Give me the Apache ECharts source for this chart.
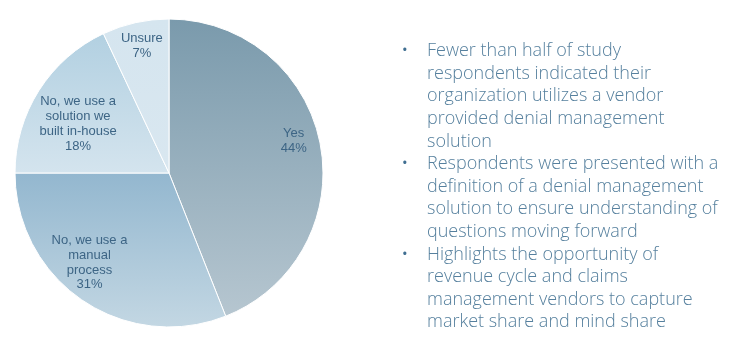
<!DOCTYPE html>
<html>
<head>
<meta charset="utf-8">
<script src="https://cdn.jsdelivr.net/npm/echarts@6/dist/echarts.min.js"></script>
<style>
  html, body { margin: 0; padding: 0; background: #ffffff; }
  #chart { width: 743px; height: 347px; }
</style>
</head>
<body>
<div id="chart"></div>
<script>
// Survey answers: does the organization use a vendor-provided denial management solution?
const categories = ['Yes', 'No, we use a\nmanual\nprocess', 'No, we use a\nsolution we\nbuilt in-house', 'Unsure'];
const values = [44, 31, 18, 7];
const sliceTop = ['#7a9aac', '#93b7cf', '#b2d0e1', '#d5e5ef'];
const sliceBottom = ['#b6c6d0', '#c3d7e3', '#d4e4ee', '#d9e7f0'];
const labelShift = [[-2, -8], [-7, -17], [18, 20], [1, -1]];

const bullets = [
  ['Fewer than half of study', 'respondents indicated their', 'organization utilizes a vendor', 'provided denial management', 'solution'],
  ['Respondents were presented with a', 'definition of a denial management', 'solution to ensure understanding of', 'questions moving forward'],
  ['Highlights the opportunity of', 'revenue cycle and claims', 'management vendors to capture', 'market share and mind share']
];

const chart = echarts.init(document.getElementById('chart'), null, { renderer: 'canvas' });

const cx = 169, cy = 173, R = 154;

const pieData = categories.map((name, i) => ({
  name: name,
  value: values[i],
  itemStyle: {
    color: new echarts.graphic.LinearGradient(0, 0, 0, 1, [
      { offset: 0, color: sliceTop[i] },
      { offset: 1, color: sliceBottom[i] }
    ])
  }
}));

const labelData = categories.map((name, i) => ({ name: name, value: values[i] }));

// Bullet list on the right
const textGraphics = [];
const lineH = 22.6;
let y = 51;
bullets.forEach(lines => {
  textGraphics.push({
    type: 'text', x: 402, y: y,
    style: { text: '•', font: '15px "Open Sans"', fill: '#3f6e91', verticalAlign: 'middle' }
  });
  lines.forEach(line => {
    textGraphics.push({
      type: 'text', x: 427, y: y,
      style: { text: line, font: '300 18px "Open Sans"', fill: '#56809e', verticalAlign: 'middle' }
    });
    y += lineH;
  });
});

chart.setOption({
  animation: false,
  series: [
    {
      type: 'pie',
      center: [cx, cy],
      radius: [0, R],
      startAngle: 90,
      clockwise: true,
      silent: true,
      itemStyle: { borderColor: '#ffffff', borderWidth: 1 },
      label: { show: false },
      labelLine: { show: false },
      data: pieData
    },
    {
      // transparent ring used only to place the slice labels further out
      type: 'pie',
      center: [cx, cy],
      radius: [0, 252],
      startAngle: 90,
      clockwise: true,
      silent: true,
      itemStyle: { color: 'rgba(0,0,0,0)' },
      label: {
        show: true,
        position: 'inside',
        formatter: p => p.name + '\n' + p.value + '%',
        fontFamily: '"Liberation Sans", Arial, sans-serif',
        fontSize: 13,
        lineHeight: 14.8,
        color: '#3d6585',
        align: 'center'
      },
      labelLayout: p => ({ dx: labelShift[p.dataIndex][0], dy: labelShift[p.dataIndex][1] }),
      labelLine: { show: false },
      data: labelData
    }
  ],
  graphic: textGraphics
});
</script>
</body>
</html>
